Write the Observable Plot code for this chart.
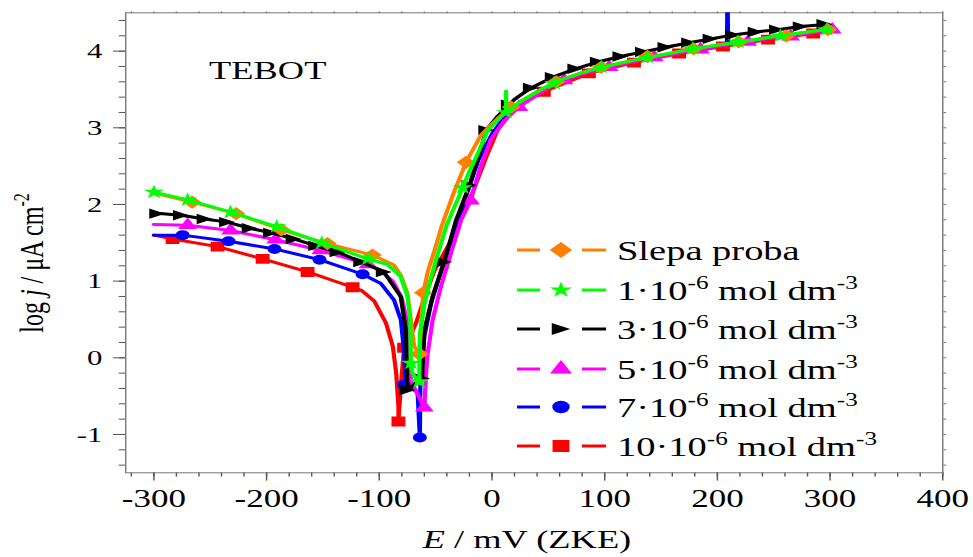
<!DOCTYPE html>
<html>
<head>
<meta charset="utf-8">
<script src="https://cdn.jsdelivr.net/npm/d3@7"></script>
<script src="https://cdn.jsdelivr.net/npm/@observablehq/plot@0.6"></script>
<style>
html,body{margin:0;padding:0;background:#fff;overflow:hidden}
</style>
</head>
<body>
<div id="chart"></div>
<script>
// ---------- data ----------
// Slepa proba (blank)
const blankE = [-300,-266,-227,-187,-146,-106,-87,-81,-75,-72,-69,-64.5,-62.5,-61,-57,-51,-45,-34,-23,-10,0,11,25,40,50,60,80,100,125,150,175,200,225,250,275,300];
const blankJ = [2.15,2.03,1.88,1.67,1.49,1.34,1.21,1.08,0.84,0.49,0.15,0.05,0.5,0.85,1.12,1.4,1.7,2.15,2.55,2.9,3.05,3.2,3.34,3.47,3.55,3.62,3.72,3.8,3.88,3.95,4.02,4.08,4.13,4.19,4.24,4.29];
const blankMkE = [-266,-227,-187,-146,-106,-64.5,-61,-23,17,57,97,138,179,219,261,298];
const blankMkJ = [2.03,1.88,1.67,1.49,1.34,0.05,0.85,2.55,3.27,3.6,3.79,3.93,4.03,4.12,4.2,4.28];
// 1e-6
const c1E = [-300,-270,-232,-191,-151,-110,-93,-81,-75,-72.5,-72,-70.5,-64.6,-64,-60,-55,-48,-40,-30,-20,-12.8,-4,5,12.3,12.5,12.7,25,40,50,60,80,100,125,150,175,200,225,250,275,300];
const c1J = [2.16,2.06,1.9,1.71,1.5,1.29,1.22,1.06,0.8,0.49,-0.07,-0.2,-0.33,0.3,0.7,1.0,1.36,1.74,2.08,2.43,2.66,2.96,3.1,3.2,3.48,3.2,3.34,3.47,3.55,3.62,3.72,3.8,3.88,3.95,4.02,4.08,4.13,4.19,4.24,4.29];
const c1MkE = [-300,-270,-232,-191,-151,-110,-72,-64.6,-26,12.3,55,97,138,178,218,256,297];
const c1MkJ = [2.16,2.06,1.9,1.71,1.5,1.29,-0.07,-0.31,2.22,3.2,3.58,3.79,3.92,4.03,4.12,4.2,4.28];
// 3e-6
const c3E = [-300,-276,-255,-235,-215,-196,-176,-156,-137,-116,-96,-81,-76.4,-75,-62,-60,-52.7,-42.4,-32,-20,-12,-5,5,20,34.5,54,74,94,114,134,154,175,194,214,234,253,274,298];
const c3J = [1.89,1.86,1.81,1.77,1.69,1.63,1.55,1.46,1.38,1.25,1.12,0.8,0.36,-0.42,-0.27,0.36,0.8,1.25,1.79,2.25,2.62,2.97,3.15,3.37,3.52,3.66,3.77,3.86,3.93,3.99,4.05,4.11,4.16,4.21,4.25,4.28,4.32,4.35];
const c3MkE = [-297,-276,-255,-235,-215,-196,-176,-156,-137,-116,-96,-75,-62,-42.4,-20,-5,15,34.5,54,74,94,114,134,154,175,194,214,234,253,274,295];
const c3MkJ = [1.88,1.86,1.81,1.77,1.69,1.63,1.55,1.46,1.38,1.25,1.12,-0.42,-0.27,1.25,2.25,2.97,3.3,3.52,3.66,3.77,3.86,3.93,3.99,4.05,4.11,4.16,4.21,4.25,4.28,4.32,4.35];
// 5e-6
const c5E = [-300,-270,-232,-192,-152,-110,-100,-88,-80,-75,-73,-72,-60,-58.5,-57,-52.7,-45.3,-36.5,-27.6,-19,-10,-1,10,24,40,50,60,80,100,125,150,175,200,225,250,275,302];
const c5J = [1.74,1.73,1.66,1.54,1.4,1.22,1.15,1.0,0.78,0.45,0.0,-0.3,-0.65,-0.2,0.06,0.49,0.93,1.36,1.79,2.05,2.5,2.85,3.08,3.27,3.43,3.52,3.6,3.7,3.78,3.86,3.93,4.0,4.06,4.12,4.17,4.22,4.28];
const c5MkE = [-270,-232,-192,-152,-110,-60,-19,24,64,104,144,185,227,265,302];
const c5MkJ = [1.73,1.66,1.54,1.4,1.22,-0.65,2.05,3.27,3.62,3.79,3.92,4.02,4.12,4.19,4.28];
// 7e-6
const c7E = [-300,-274.5,-233.7,-193,-153,-114.8,-98.6,-86.8,-80.8,-77.9,-76.5,-66,-64,-63.5,-60,-54,-45,-35,-25,-12,0,12,25,40,50,60,80,100,125,150,175,200,208.5,209,209.5,225,250,275,300];
const c7J = [1.6,1.6,1.52,1.42,1.28,1.09,0.97,0.75,0.49,0.06,-0.35,-0.45,-1.04,-0.3,0.28,0.71,1.14,1.58,2.02,2.58,2.92,3.16,3.32,3.46,3.54,3.61,3.71,3.79,3.87,3.94,4.01,4.07,4.1,4.8,4.1,4.13,4.18,4.23,4.28];
const c7MkE = [-274.5,-233.7,-193,-153,-114.8,-78,-64];
const c7MkJ = [1.6,1.52,1.42,1.28,1.09,-0.35,-1.04];
// 10e-6
const c10E = [-300,-283.4,-243.5,-203.5,-163.6,-123.7,-116,-104.5,-94,-88,-85,-83,-83,-80.5,-78,-72,-67.5,-60,-51,-42,-33.5,-25,-16,-5,5,15,25,46,86,126,166,205,245,285,300];
const c10J = [1.6,1.55,1.45,1.29,1.12,0.92,0.88,0.74,0.45,0.15,-0.2,-0.63,-0.83,-0.3,0.13,0.3,0.45,0.78,1.14,1.38,1.6,1.9,2.2,2.62,2.97,3.16,3.3,3.47,3.71,3.85,3.97,4.06,4.15,4.23,4.26];
const c10MkE = [-283.4,-243.5,-203.5,-163.6,-123.7,-83,-78,46,86,126,166,205,245,285];
const c10MkJ = [1.55,1.45,1.29,1.12,0.92,-0.83,0.13,3.47,3.71,3.85,3.97,4.06,4.15,4.23];

const seriesNames = ["Slepa proba","1","3","5","7","10"];
const seriesConc = [null, 1, 3, 5, 7, 10];
const xTicks = [-300,-200,-100,0,100,200,300,400];
const xMinorTicks = [-320,-300,-280,-260,-240,-220,-200,-180,-160,-140,-120,-100,-80,-60,-40,-20,0,20,40,60,80,100,120,140,160,180,200,220,240,260,280,300,320,340,360,380,400];
const yTicks = [-1,0,1,2,3,4];
const yMinorTicks = [-1.4,-1.2,-1,-0.8,-0.6,-0.4,-0.2,0,0.2,0.4,0.6,0.8,1,1.2,1.4,1.6,1.8,2,2.2,2.4,2.6,2.8,3,3.2,3.4,3.6,3.8,4,4.2,4.4];
const annotText = ["TEBOT"];
const annotE = [-251];
const annotJ = [3.74];

// ---------- styling ----------
const FONT = "'Liberation Serif','Times New Roman',Times,serif";
const NATIVE_W = 695, PAGE_W = 973, H = 557;
const triRight = {
  draw(ctx, size) {
    const r = Math.sqrt(size / Math.PI);
    const w = 2.2 * r, h = 2 * r;
    ctx.moveTo(w / 2, 0);
    ctx.lineTo(-w / 2, -h / 2);
    ctx.lineTo(-w / 2, h / 2);
    ctx.closePath();
  }
};
const styles = [
  {color: "#ff8000", symbol: d3.symbolDiamond2, r: 6, lr: 7.2},
  {color: "#00ff00", symbol: d3.symbolStar, r: 4.5, lr: 5.0},
  {color: "#000000", symbol: triRight, r: 5.2, lr: 6.0},
  {color: "#ff00ff", symbol: d3.symbolTriangle, r: 5, lr: 5.8},
  {color: "#0000ff", symbol: d3.symbolCircle, r: 5, lr: 6.2},
  {color: "#ff0000", symbol: d3.symbolSquare, r: 5.6, lr: 6.8}
];
const seriesData = [
  [blankE, blankJ, blankMkE, blankMkJ],
  [c1E, c1J, c1MkE, c1MkJ],
  [c3E, c3J, c3MkE, c3MkJ],
  [c5E, c5J, c5MkE, c5MkJ],
  [c7E, c7J, c7MkE, c7MkJ],
  [c10E, c10J, c10MkE, c10MkJ]
];
const toRows = (E, J) => E.map((e, i) => ({E: e, J: J[i]}));
const drawOrder = [5, 4, 3, 2, 0, 1];

const seriesMarks = [];
for (const k of drawOrder) {
  const [E, J, mE, mJ] = seriesData[k];
  const st = styles[k];
  seriesMarks.push(Plot.line(toRows(E, J), {x: "E", y: "J", stroke: st.color, strokeWidth: 3, clip: true}));
  seriesMarks.push(Plot.dot(toRows(mE, mJ), {x: "E", y: "J", symbol: st.symbol, r: st.r, fill: st.color, stroke: "none", clip: true}));
}

const plot = Plot.plot({
  width: NATIVE_W,
  height: H,
  marginLeft: 89.3,
  marginRight: 22.1,
  marginTop: 12.3,
  marginBottom: 84.7,
  x: {domain: [-325, 400]},
  y: {domain: [-1.5, 4.5]},
  style: {fontFamily: FONT, background: "white", color: "black"},
  marks: [
    Plot.axisX({ticks: xMinorTicks, tickSize: 4.3, fill: "none", stroke: "#555", label: null}),
    Plot.axisX({ticks: xTicks, tickSize: 8.3, tickPadding: 8.5, fontSize: 25, tickFormat: d => String(d), stroke: "#555", fill: "black", label: null}),
    Plot.axisX({anchor: "top", ticks: xMinorTicks, tickSize: 2, fill: "none", stroke: "#999", label: null}),
    Plot.axisY({ticks: yMinorTicks, tickSize: 4.5, fill: "none", stroke: "#555", label: null}),
    Plot.axisY({ticks: yTicks, tickSize: 8.6, tickPadding: 8.1, fontSize: 22, tickFormat: d => String(d), stroke: "#555", fill: "black", label: null}),
    Plot.axisY({anchor: "right", ticks: yMinorTicks, tickSize: 2, fill: "none", stroke: "#777", label: null}),
    Plot.frame({stroke: "#777"}),
    ...seriesMarks,
    Plot.text(annotText, {x: (d, i) => annotE[i], y: (d, i) => annotJ[i], text: d => d, textAnchor: "start", fontSize: 26, fill: "black"})
  ]
});

// stretch the drawing horizontally like the original figure
const svg = d3.select(plot);
svg.attr("width", PAGE_W).attr("height", H).attr("preserveAspectRatio", "none")
   .style("width", PAGE_W + "px").style("height", H + "px").style("max-width", "none");

// axis titles
const yt = svg.append("text")
  .attr("transform", "translate(30.5,263) rotate(-90)")
  .attr("text-anchor", "middle").attr("font-family", FONT).attr("font-size", 24).attr("fill", "black");
yt.append("tspan").text("log ");
yt.append("tspan").attr("font-style", "italic").text("j");
yt.append("tspan").text(" / μA cm");
yt.append("tspan").attr("dy", -10).attr("font-size", 16).text("-2");

const xt = svg.append("text")
  .attr("x", 376.4).attr("y", 548)
  .attr("text-anchor", "middle").attr("font-family", FONT).attr("font-size", 26).attr("fill", "black");
xt.append("tspan").attr("font-style", "italic").text("E");
xt.append("tspan").text(" / mV (ZKE)");

// legend
const legendRowY = [250, 290, 329, 369, 407, 446];
const lg = svg.append("g").attr("font-family", FONT).attr("font-size", 27.5)
  .attr("fill", "black").attr("text-anchor", "start");
seriesNames.forEach((name, i) => {
  const y = legendRowY[i];
  const st = styles[i];
  lg.append("line").attr("x1", 369.3).attr("x2", 385.7).attr("y1", y).attr("y2", y)
    .attr("stroke", st.color).attr("stroke-width", 3);
  lg.append("line").attr("x1", 415.7).attr("x2", 432.9).attr("y1", y).attr("y2", y)
    .attr("stroke", st.color).attr("stroke-width", 3);
  lg.append("path").attr("d", d3.symbol(st.symbol, Math.PI * st.lr * st.lr)())
    .attr("transform", `translate(400.7,${y})`).attr("fill", st.color);
  const t = lg.append("text").attr("x", 440.7).attr("y", y + 10).attr("text-anchor", "start");
  if (seriesConc[i] == null) {
    t.text(name);
  } else {
    t.append("tspan").text(`${seriesConc[i]}·10`);
    t.append("tspan").attr("dy", -11).attr("font-size", 18).text("-6");
    t.append("tspan").attr("dy", 11).text(" mol dm");
    t.append("tspan").attr("dy", -11).attr("font-size", 18).text("-3");
  }
});

document.getElementById("chart").appendChild(plot);
</script>
</body>
</html>
